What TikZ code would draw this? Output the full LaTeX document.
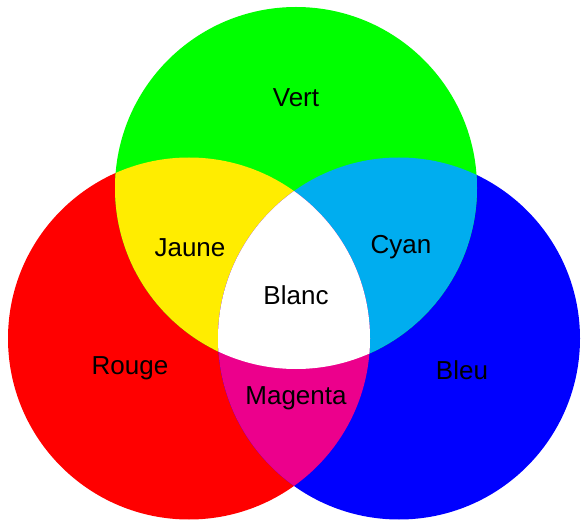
\documentclass[tikz,border=0pt]{standalone}
\usepackage{fontspec}
\setmainfont{Liberation Sans}
\definecolor{cR}{RGB}{255,0,0}
\definecolor{cG}{RGB}{0,255,0}
\definecolor{cB}{RGB}{0,0,255}
\definecolor{cY}{RGB}{255,237,0}
\definecolor{cC}{RGB}{0,173,239}
\definecolor{cM}{RGB}{236,0,140}
\tikzset{lbl/.style={font=\fontsize{26}{31}\selectfont, text=black, inner sep=0pt}}
\begin{document}
\begin{tikzpicture}[x=1pt,y=-1pt]
\useasboundingbox (0,0) rectangle (581,521);
\def\rr{181}
\coordinate (G) at (296,188);
\coordinate (R) at (189,338.5);
\coordinate (B) at (399,338.5);
\fill[cR] (R) circle (\rr);
\fill[cB] (B) circle (\rr);
\fill[cG] (G) circle (\rr);
\begin{scope}
  \clip (R) circle (\rr);
  \fill[cY] (G) circle (\rr);
\end{scope}
\begin{scope}
  \clip (B) circle (\rr);
  \fill[cC] (G) circle (\rr);
\end{scope}
\begin{scope}
  \clip (R) circle (\rr);
  \fill[cM] (B) circle (\rr);
\end{scope}
\begin{scope}
  \clip (R) circle (\rr);
  \clip (B) circle (\rr);
  \fill[white] (G) circle (\rr);
\end{scope}
\node[lbl] (vert) at (296,98) {Vert};
\node[lbl] (jaune) at (190,248) {Jaune};
\node[lbl] (cyan) at (401,247) {Cyan};
\node[lbl] (blanc) at (296,295) {Blanc};
\node[lbl] (rouge) at (130,368) {Rouge};
\node[lbl] (bleu) at (462,370) {Bleu};
\node[lbl] (magenta) at (296,398) {Magenta};
\end{tikzpicture}
\end{document}
